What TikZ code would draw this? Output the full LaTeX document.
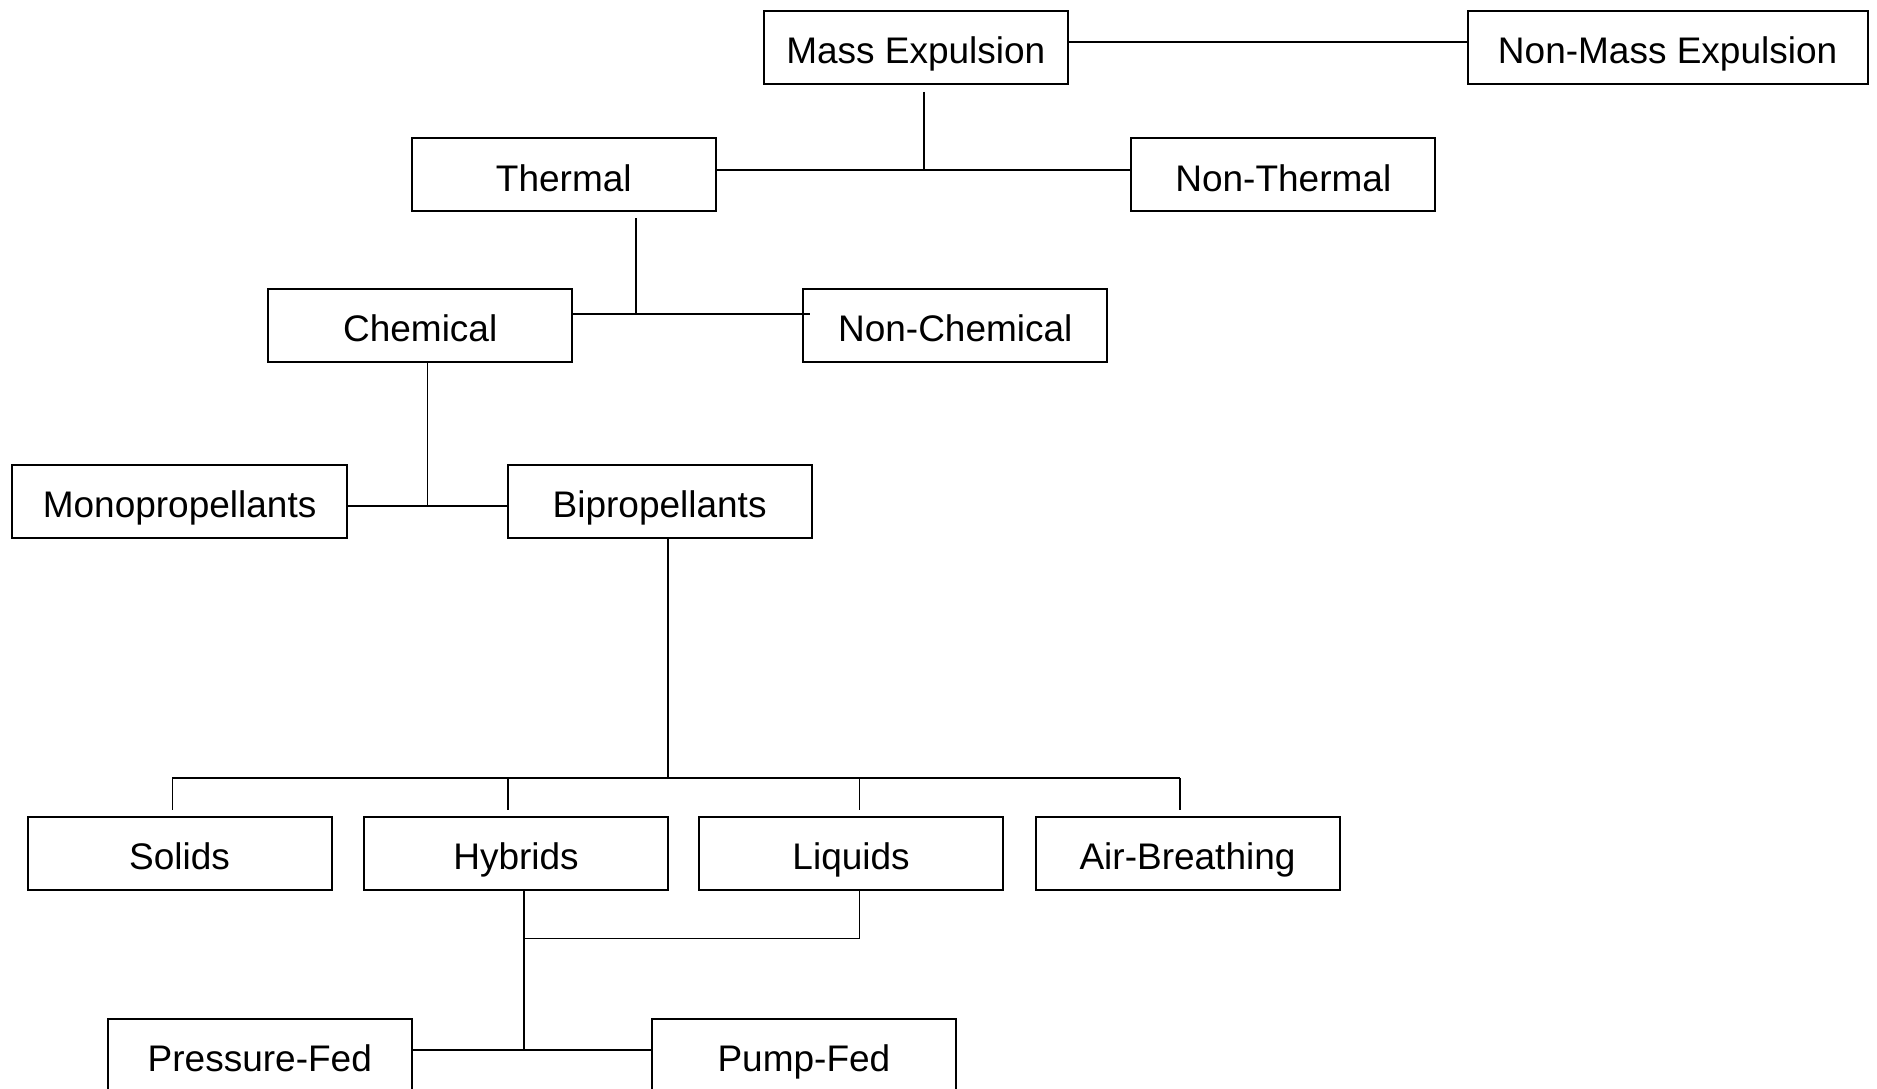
\documentclass[tikz,border=0pt]{standalone}
\usepackage{fontspec}
\setmainfont{Liberation Sans}
\usetikzlibrary{calc}
\begin{document}
\begin{tikzpicture}[x=1pt,y=-1pt,
  box/.style={draw, line width=2pt, minimum width=304pt, minimum height=73pt, inner sep=0pt,
    font=\fontsize{37}{40}\selectfont, text height=32.5pt, text depth=0pt},
  conn/.style={line width=1.8pt}]
\useasboundingbox (0,0) rectangle (1877,1089);
\clip (0,0) rectangle (1877,1089);
% nodes
\node[box] (me) at (915.8,47.3) {Mass Expulsion};
\node[box, minimum width=400pt] (nme) at (1667.6,47.3) {Non-Mass Expulsion};
\node[box] (th) at (563.8,174.8) {Thermal};
\node[box] (nt) at (1283.3,174.8) {Non-Thermal};
\node[box] (ch) at (420.2,325) {Chemical};
\node[box] (nc) at (955.3,325) {Non-Chemical};
\node[box, minimum width=335pt] (mono) at (179.6,501) {Monopropellants};
\node[box] (bi) at (659.6,501) {Bipropellants};
\node[box] (so) at (179.6,853) {Solids};
\node[box] (hy) at (516,853) {Hybrids};
\node[box] (li) at (851.1,853) {Liquids};
\node[box] (ab) at (1187.5,853) {Air-Breathing};
\node[box] (pf) at (259.8,1055.2) {Pressure-Fed};
\node[box] (pu) at (803.9,1055.2) {Pump-Fed};
% junctions
\coordinate (j1) at (924.2,170);
\coordinate (j2) at (635.7,313.6);
\coordinate (j3) at (427.4,506);
\coordinate (j4) at (668,778);
\coordinate (bl) at (172.4,778);
\coordinate (br) at (1180.3,778);
\coordinate (dh) at (507.6,778);
\coordinate (dl) at (859.5,778);
\coordinate (j5) at (524.3,938.5);
\coordinate (j6) at (859.5,938.5);
\coordinate (j7) at (524.3,1049.9);
% connectors
\draw[conn] ($(me.east)+(0,-5.4)$) -- ($(nme.west)+(0,-5.4)$);
\draw[conn] ($(me.south -| j1)+(0,7)$) -- (j1);
\draw[conn] (th.east |- j1) -- (nt.west |- j1);
\draw[conn] ($(th.south -| j2)+(0,6)$) -- (j2);
\draw[conn] (ch.east |- j2) -- ($(nc.west |- j2)+(8,0)$);
\draw[conn] (ch.south -| j3) -- (j3);
\draw[conn] (mono.east |- j3) -- (bi.west |- j3);
\draw[conn] (bi.south -| j4) -- (j4);
\draw[conn] (bl) -- (br);
\draw[conn] (bl) -- ($(so.north -| bl)+(0,-6)$);
\draw[conn] (dh) -- ($(hy.north -| dh)+(0,-6)$);
\draw[conn] (dl) -- ($(li.north -| dl)+(0,-6)$);
\draw[conn] (br) -- ($(ab.north -| br)+(0,-6)$);
\draw[conn] (hy.south -| j5) -- (j5) -- (j6) -- (li.south -| j6);
\draw[conn] (j5) -- (j7);
\draw[conn] (pf.east |- j7) -- (pu.west |- j7);
\end{tikzpicture}
\end{document}
